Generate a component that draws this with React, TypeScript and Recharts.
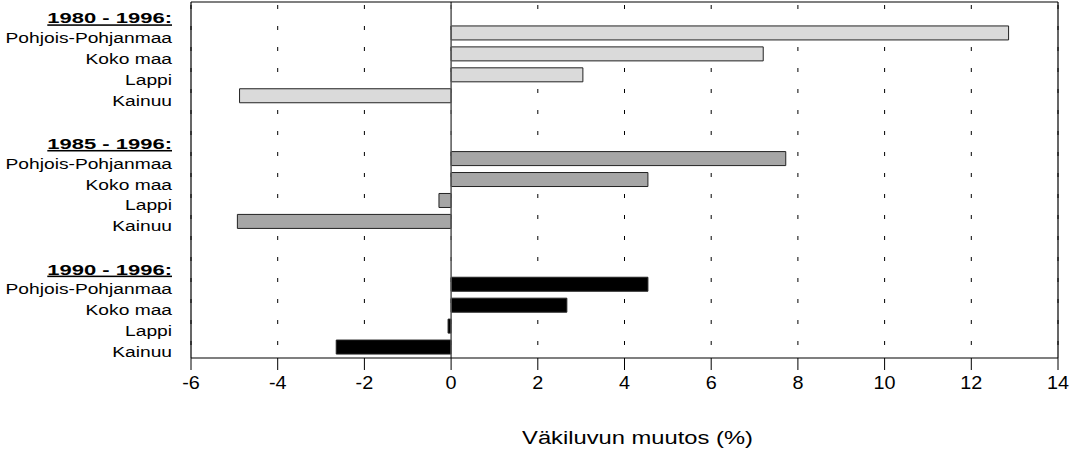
import React from "react";
import {
  BarChart,
  Bar,
  XAxis,
  YAxis,
  CartesianGrid,
  ReferenceLine,
  Cell,
  Label,
} from "recharts";

const groupLabels = ["1980 - 1996:", "1985 - 1996:", "1990 - 1996:"];
const regions = ["Pohjois-Pohjanmaa", "Koko maa", "Lappi", "Kainuu"];
const change1980 = [12.86, 7.2, 3.04, -4.88];
const change1985 = [7.72, 4.54, -0.28, -4.93];
const change1990 = [4.54, 2.67, -0.07, -2.65];
const xTicks = [-6, -4, -2, 0, 2, 4, 6, 8, 10, 12, 14];
const axisTitle = "Väkiluvun muutos (%)";
const groupFills = ["#dadada", "#a6a6a6", "#000000"];

const series = [change1980, change1985, change1990];

type Row = {
  key: string;
  label: string;
  kind: "gap" | "head" | "region";
  group: number;
  value: number | null;
};

const rows: Row[] = [];
series.forEach((vals, g) => {
  if (g > 0) rows.push({ key: `gap${g}`, label: "", kind: "gap", group: g, value: null });
  rows.push({ key: `head${g}`, label: groupLabels[g], kind: "head", group: g, value: null });
  regions.forEach((r, i) => {
    rows.push({ key: `${g}-${i}`, label: r, kind: "region", group: g, value: vals[i] });
  });
});

const FONT = "'Liberation Sans', Arial, Helvetica, sans-serif";

const YTick = (props: any) => {
  const { x, y, payload } = props;
  const row = rows[payload.index];
  if (!row || !row.label) return null;
  if (row.kind === "head") {
    return (
      <g transform={`translate(${x},${y + 5.5})`}>
        <text
          transform="scale(1.42,1)"
          textAnchor="end"
          dy="0.355em"
          fontFamily={FONT}
          fontSize={15.5}
          fontWeight="bold"
          textDecoration="underline"
          fill="#000"
        >
          {row.label}
        </text>
      </g>
    );
  }
  return (
    <g transform={`translate(${x},${y + 4})`}>
      <text
        transform="scale(1.24,1)"
        textAnchor="end"
        dy="0.355em"
        fontFamily={FONT}
        fontSize={15.5}
        fill="#000"
      >
        {row.label}
      </text>
    </g>
  );
};

const XTick = (props: any) => {
  const { x, y, payload } = props;
  return (
    <g transform={`translate(${x},${y})`}>
      <text
        transform="scale(1.1,1)"
        textAnchor="middle"
        dy="0.71em"
        fontFamily={FONT}
        fontSize={18}
        fill="#000"
      >
        {payload.value}
      </text>
    </g>
  );
};

const renderTitle = (props: any) => {
  const vb = props.viewBox || {};
  const cx = (vb.x ?? 0) + (vb.width ?? 0) / 2 + 13;
  const baseY = (vb.y ?? 0) + 86;
  return (
    <g transform={`translate(${cx},${baseY})`}>
      <text
        transform="scale(1.32,1)"
        textAnchor="middle"
        fontFamily={FONT}
        fontSize={18}
        fill="#000"
      >
        {axisTitle}
      </text>
    </g>
  );
};

export default function App() {
  return (
    <div style={{ position: "absolute", left: 0, top: 0, background: "#fff" }}>
      <BarChart
        layout="vertical"
        width={1075}
        height={454}
        data={rows}
        margin={{ top: 1, right: 16, bottom: 0, left: 0 }}
        barSize={14}
      >
        <CartesianGrid
          horizontal={false}
          vertical={true}
          stroke="#000"
          strokeDasharray="4 17"
          strokeDashoffset={-3}
        />
        <XAxis
          type="number"
          domain={[-6, 14]}
          ticks={xTicks}
          allowDataOverflow
          height={96}
          axisLine={{ stroke: "#000", strokeWidth: 1.2 }}
          tickLine={{ stroke: "#000" }}
          tickSize={12}
          tickMargin={6}
          tick={<XTick />}
          interval={0}
        >
          <Label content={renderTitle} />
        </XAxis>
        <XAxis
          xAxisId="top"
          orientation="top"
          type="number"
          domain={[-6, 14]}
          height={1}
          tick={false}
          tickLine={false}
          axisLine={{ stroke: "#000", strokeWidth: 1.2 }}
        />
        <YAxis
          type="category"
          dataKey="key"
          width={191}
          interval={0}
          axisLine={{ stroke: "#000", strokeWidth: 1.2 }}
          tickLine={false}
          tickSize={0}
          tickMargin={19}
          tick={<YTick />}
        />
        <YAxis
          yAxisId="right"
          orientation="right"
          type="category"
          dataKey="key"
          width={1}
          tick={false}
          tickLine={false}
          axisLine={{ stroke: "#000", strokeWidth: 1.2 }}
        />
        <ReferenceLine x={0} stroke="#555" strokeWidth={1.5} />
        <Bar dataKey="value" isAnimationActive={false} stroke="#222" strokeWidth={1}>
          {rows.map((r) => (
            <Cell key={r.key} fill={groupFills[r.group]} />
          ))}
        </Bar>
      </BarChart>
    </div>
  );
}
